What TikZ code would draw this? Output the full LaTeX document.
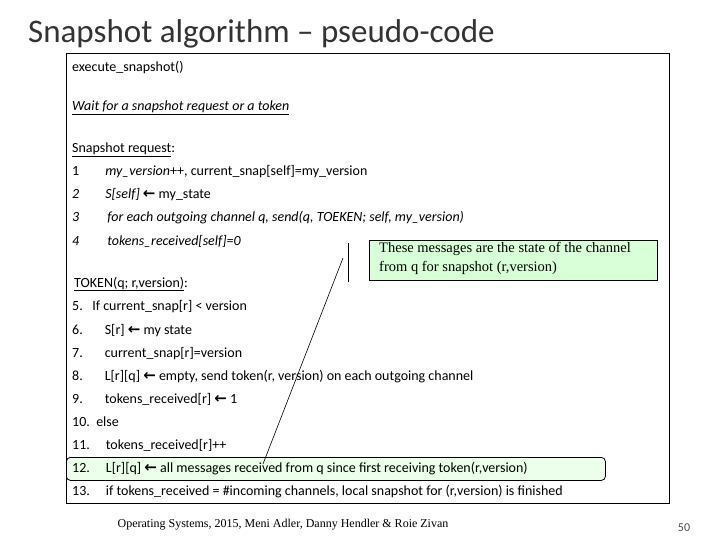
\documentclass[tikz,border=0pt]{standalone}
\usepackage{fontspec}
\setmainfont{Carlito}
\newfontfamily\tms{Liberation Serif}
\newfontfamily\djvfont{DejaVu Sans}
\newcommand{\larr}{{\djvfont\bfseries\fontsize{15}{15}\selectfont ←}}
\begin{document}
\begin{tikzpicture}[x=1pt,y=-1pt,
  ln/.style={anchor=base west,inner sep=0pt,font=\fontsize{14}{16}\selectfont},
  tt/.style={anchor=base west,inner sep=0pt,font=\fontsize{33}{36}\selectfont,text=black!80}]
\useasboundingbox (0,0) rectangle (720,540);
\node[tt] (title) at (28,43) {Snapshot algorithm – pseudo-code};
\node[draw,thick,rectangle,minimum width=603pt,minimum height=450pt,anchor=north west,inner sep=0pt] (box) at (66,53) {};
\node[draw=black,thick,rounded corners=4pt,fill=green!8,minimum width=539pt,minimum height=23pt,anchor=north west,inner sep=0pt] (hl) at (66,457) {};
\node[draw,thick,fill=green!15,anchor=north west,minimum width=288pt,minimum height=40pt,inner sep=0pt] (cb) at (369,240) {};
\node[anchor=north west,inner sep=0pt,align=left,font=\tms\fontsize{14.5}{19}\selectfont] (cbt) at (379,242) {These messages are the state of the channel\\from q for snapshot (r,version)};
\coordinate (v1) at (348,243); \coordinate (v2) at (348,282);
\coordinate (s1) at (343,258); \coordinate (s2) at (263,464);
\draw[semithick] (v1) -- (v2);
\draw[semithick] (s1) -- (s2);
\node[ln] (a0) at (72,72) {execute\_snapshot()};
\node[ln] (a1) at (72,111) {\underline{\itshape Wait for a snapshot request or a token}};
\node[ln] (a2) at (72,153) {\underline{Snapshot request}:};
\node[ln] (a3) at (72,176) {1\hspace{26pt}\itshape my\_version\upshape++, current\_snap[self]=my\_version};
\node[ln] (a4) at (72,199) {\itshape 2\hspace{26pt}S[self] \larr\ \upshape my\_state};
\node[ln] (a5) at (72,222) {\itshape 3\hspace{28pt}for each outgoing channel q, send(q, TOEKEN; self, my\_version)};
\node[ln] (a6) at (72,245) {\itshape 4\hspace{28pt}tokens\_received[self]=0};
\node[ln] (b0) at (74,287) {\underline{TOKEN(q; r,version)}:};
\node[ln] (b1) at (72,310) {5.\ \ \ If current\_snap[r] < version};
\node[ln] (b2) at (72,334) {6.\hspace{22pt}S[r] \larr\ my state};
\node[ln] (b3) at (72,357) {7.\hspace{22pt}current\_snap[r]=version};
\node[ln] (b4) at (72,380) {8.\hspace{22pt}L[r][q] \larr\ empty, send token(r, version) on each outgoing channel};
\node[ln] (b5) at (72,403) {9.\hspace{22pt}tokens\_received[r] \larr\ 1};
\node[ln] (b6) at (72,426) {10.\ \ else};
\node[ln] (b7) at (72,449) {11.\hspace{16pt}tokens\_received[r]++};
\node[ln] (b8) at (72,472) {12.\hspace{16pt}L[r][q] \larr\ all messages received from q since first receiving token(r,version)};
\node[ln] (b9) at (72,495) {13.\hspace{16pt}if tokens\_received = \#incoming channels, local snapshot for (r,version) is finished};
\node[anchor=base,inner sep=0pt,font=\tms\fontsize{12}{14}\selectfont] (ft) at (283,527) {Operating Systems, 2015, Meni Adler, Danny Hendler \& Roie Zivan};
\node[anchor=base,inner sep=0pt,font=\fontsize{12}{14}\selectfont,text=black!70] (pg) at (684,531) {50};
\end{tikzpicture}
\end{document}
